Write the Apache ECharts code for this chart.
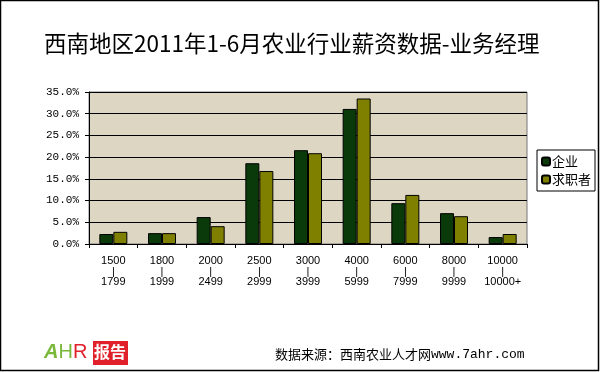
<!DOCTYPE html>
<html><head><meta charset="utf-8">
<script src="https://cdn.jsdelivr.net/npm/echarts@6/dist/echarts.min.js"></script>
<style>html,body{margin:0;padding:0;background:#fff}#c{width:600px;height:372px}</style>
</head><body><div id="c"></div>
<script>
var categories = ['1500\n|\n1799','1800\n|\n1999','2000\n|\n2499','2500\n|\n2999','3000\n|\n3999','4000\n|\n5999','6000\n|\n7999','8000\n|\n9999','10000\n|\n10000+'];
var enterprise = [2.3, 2.5, 6.2, 18.6, 21.6, 31.1, 9.4, 7.1, 1.6];
var jobseeker = [2.8, 2.5, 4.1, 16.8, 20.9, 33.5, 11.3, 6.4, 2.3];
var seriesNames = ['企业', '求职者'];
var titleText = '西南地区2011年1-6月农业行业薪资数据-业务经理';
var sourceText = '数据来源：西南农业人才网';
var sourceUrl = 'www.7ahr.com';

var chart = echarts.init(document.getElementById('c'), null, {renderer: 'canvas'});
var cjk = '"Noto Sans CJK SC", sans-serif';
chart.setOption({
  backgroundColor: '#fff',
  animation: false,
  title: {
    text: titleText, left: 39, top: 27,
    textStyle: {fontFamily: cjk, fontSize: 22.5, fontWeight: 'normal', color: '#000'}
  },
  grid: {left: 89, right: 73, top: 92, bottom: 128, show: true, backgroundColor: '#ddd6c3', borderColor: '#777', borderWidth: 1},
  legend: {
    orient: 'vertical', left: 537, top: 150, itemWidth: 8, itemHeight: 8, itemGap: 5,
    borderColor: '#000', borderWidth: 1, padding: [5, 4, 5, 4], backgroundColor: '#fff',
    textStyle: {fontFamily: cjk, fontSize: 13, color: '#000', padding: [0, 0, 0, -3]},
    data: seriesNames
  },
  xAxis: {
    type: 'category', data: categories,
    axisLine: {lineStyle: {color: '#000', width: 1}},
    axisTick: {show: true, length: 4, lineStyle: {color: '#000'}},
    axisLabel: {fontFamily: '"Liberation Sans", Arial, sans-serif', fontSize: 11, color: '#000', lineHeight: 10.5, margin: 12, interval: 0}
  },
  yAxis: {
    type: 'value', min: 0, max: 35, interval: 5,
    axisLine: {show: true, lineStyle: {color: '#000'}},
    axisTick: {show: true, length: 4, lineStyle: {color: '#000'}},
    splitLine: {lineStyle: {color: '#000', width: 1}},
    axisLabel: {fontFamily: '"Liberation Mono", monospace', fontSize: 11, color: '#000', margin: 10,
      formatter: function (v) { return v.toFixed(1) + '%'; }}
  },
  series: [
    {name: seriesNames[0], type: 'bar', data: enterprise, barWidth: 14, barGap: '0%',
     itemStyle: {color: '#0a3a0a', borderColor: '#000', borderWidth: 1}},
    {name: seriesNames[1], type: 'bar', data: jobseeker, barWidth: 14, barGap: '0%',
     itemStyle: {color: '#808000', borderColor: '#000', borderWidth: 1}}
  ],
  graphic: [
    {type: 'rect', shape: {x: 0.5, y: 0.5, width: 598, height: 370}, style: {fill: 'none', stroke: '#000', lineWidth: 1.5}, silent: true},
    {type: 'text', left: 275, top: 348, style: {
      text: '{a|' + sourceText + '}{b|' + sourceUrl + '}',
      rich: {a: {fontFamily: cjk, fontSize: 13, fill: '#000'}, b: {fontFamily: '"Liberation Mono", monospace', fontSize: 13, fill: '#000'}}
    }},
    {type: 'text', left: 44, top: 342, style: {
      text: '{a|A}{h|H}{r|R}',
      rich: {a: {fontFamily: '"Liberation Sans", sans-serif', fontSize: 20, fontStyle: 'italic', fontWeight: 'bold', fill: '#7ab83a'},
             h: {fontFamily: '"Liberation Sans", sans-serif', fontSize: 20, fill: '#7ab83a'},
             r: {fontFamily: '"Liberation Sans", sans-serif', fontSize: 20, fill: '#e0202a'}}
    }},
    {type: 'rect', shape: {x: 93, y: 341, width: 35, height: 24}, style: {fill: '#e0202a'}},
    {type: 'text', left: 94, top: 344, style: {text: '报告', fontFamily: cjk, fontSize: 16, fontWeight: 'bold', fill: '#fff'}}
  ]
});
</script></body></html>
